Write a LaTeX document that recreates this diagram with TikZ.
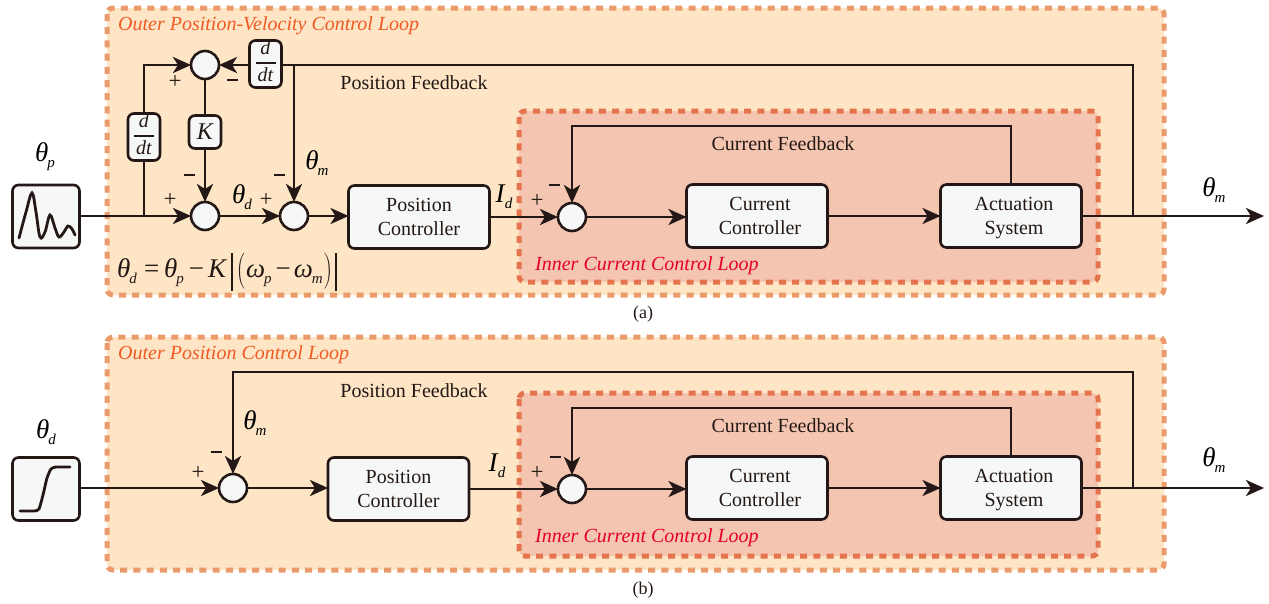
\documentclass[tikz,border=0pt]{standalone}
\usepackage{fontspec}
\setmainfont{Liberation Serif}
\usetikzlibrary{arrows.meta,positioning}
\definecolor{ink}{HTML}{231815}
\definecolor{outerfill}{HTML}{FDE5C6}
\definecolor{outerdash}{HTML}{EB9B6B}
\definecolor{innerfill}{HTML}{F4C6B1}
\definecolor{innerdash}{HTML}{E5744E}
\definecolor{boxfill}{HTML}{F6F8F7}
\definecolor{outertxt}{HTML}{F15A22}
\definecolor{innertxt}{HTML}{E60023}
\newcommand{\sym}[2]{{\fontsize{27}{27}\selectfont\textit{#1}\kern-1pt\raisebox{-6pt}{\fontsize{15}{15}\selectfont\textit{#2}}}}
\newcommand{\eqsym}[1]{{\fontsize{27}{27}\selectfont #1}}
\newcommand{\ddt}{\begin{tabular}{@{}c@{}}\textit{d}\\[-4pt]\rule[5pt]{20pt}{1.2pt}\\[-6pt]\textit{dt}\end{tabular}}
\newcommand{\tallbar}{\rule[-14pt]{1.8pt}{38pt}}
\newcommand{\mbar}{\rule[4pt]{11pt}{2.6pt}}
\newcommand{\blockline}[1]{\raisebox{-1.5pt}[0pt][0pt]{#1}\strut}
\newcommand{\shifted}[1]{\hspace*{6pt}\blockline{#1}}
\tikzset{
  x=1pt,y=-1pt,
  outerloop/.style={fill=outerfill,draw=outerdash,line width=5pt,dash pattern=on 7pt off 6.2pt,rounded corners=6pt},
  innerloop/.style={fill=innerfill,draw=innerdash,line width=5pt,dash pattern=on 7pt off 6.2pt,rounded corners=6pt},
  block/.style={draw=ink,fill=boxfill,line width=2.6pt,rounded corners=6pt,minimum width=141pt,minimum height=63pt,align=center,inner sep=0pt,outer sep=0pt,font=\fontsize{20}{24}\selectfont,text=ink},
  srcbox/.style={block,minimum width=67pt,minimum height=63pt},
  tallbox/.style={block,minimum width=32pt,minimum height=47pt,font=\fontsize{20}{18}\selectfont},
  kbox/.style={block,minimum width=32pt,minimum height=33pt,font=\fontsize{24}{24}\selectfont\itshape},
  sumnode/.style={circle,draw=ink,fill=boxfill,line width=2.6pt,minimum size=28pt,inner sep=0pt,outer sep=0pt},
  wire/.style={draw=ink,line width=2.8pt},
  arrow/.style={wire,-{Stealth[length=18pt,width=16pt,inset=5pt]}},
  curve/.style={draw=ink,line width=2.8pt,line cap=round},
  lbl/.style={inner sep=0pt,text=ink,font=\fontsize{20}{22}\selectfont},
  looplbl/.style={inner sep=0pt,anchor=west,font=\fontsize{20}{22}\selectfont\itshape},
  plus/.style={inner sep=0pt,text=ink,font=\fontsize{23}{23}\selectfont},
  minus/.style={inner sep=0pt,text=ink},
  capt/.style={inner sep=0pt,text=ink,font=\fontsize{18}{20}\selectfont}
}
\begin{document}
\begin{tikzpicture}
\useasboundingbox (0,0) rectangle (1269,603);
% ---------- (a) ----------
\path[outerloop] (107,8) rectangle (1164,295);
\path[innerloop] (519,111) rectangle (1098,282);
\node[looplbl,text=outertxt] (lo1) at (118,26) {Outer Position-Velocity Control Loop};
\node[looplbl,text=innertxt] (li1) at (535,266) {Inner Current Control Loop};
\node[srcbox] (src1) at (46,216.5) {};
\draw[curve] plot[smooth,tension=0.6] coordinates {(19,238) (26,212) (32,193) (36,212) (40,237) (45,232) (50,215) (55,228) (59,237) (64,232) (68,226) (72,229) (75,235)};
\node[sumnode] (s1) at (205,65) {};
\node[sumnode] (s2) at (205,216) {};
\node[sumnode] (s3) at (294,216) {};
\node[tallbox] (d1) at (265.5,64) {\ddt};
\node[tallbox] (d2) at (144,137) {\ddt};
\node[kbox] (k) at (205,132) {K};
\node[block] (pc1) at (419,217) {\blockline{Position}\\\blockline{Controller}};
\node[sumnode] (s4) at (572,217) {};
\node[block] (cc1) at (757,216) {\shifted{Current}\\\shifted{Controller}};
\node[block] (as1) at (1011,216) {\shifted{Actuation}\\\shifted{System}};
\coordinate (j1) at (144,216);
\coordinate (j2) at (1133,216);
\coordinate (j3) at (294,65);
\coordinate (c1) at (1133,65);
\coordinate (c2) at (1011,126);
\coordinate (c3) at (572,126);
\coordinate (out1) at (1264,216);
\coordinate (c4) at (144,65);
\draw[arrow] (s2.west -| src1.east) -- (s2.west);
\draw[wire] (j1) -- (d2.south);
\draw[arrow] (d2.north) -- (c4) -- (s1.west);
\draw[arrow] (s1.east -| d1.west) -- (s1.east);
\draw[wire] (s1.south) -- (k.north);
\draw[arrow] (k.south) -- (s2.north);
\draw[arrow] (s2.east) -- (s3.west);
\draw[arrow] (s3.east) -- (s3.east -| pc1.west);
\draw[arrow] (pc1.east |- s4.west) -- (s4.west);
\draw[arrow] (s4.east) -- (cc1.west |- s4.east);
\draw[arrow] (cc1.east) -- (as1.west);
\draw[arrow] (as1.east |- out1) -- (out1);
\draw[wire] (j2) -- (c1) -- (d1.east |- c1);
\draw[arrow] (j3) -- (s3.north);
\draw[arrow] (as1.north -| c2) -- (c2) -- (c3) -- (s4.north);
\node[lbl] (pf1) at (414,83) {Position Feedback};
\node[lbl] (cf1) at (783,144) {Current Feedback};
\node[inner sep=0pt] (tp) at (45,157) {\sym{θ}{p}};
\node[inner sep=0pt] (td) at (242,197) {\sym{θ}{d}};
\node[inner sep=0pt] (tm) at (317,163) {\sym{θ}{m}};
\node[inner sep=0pt] (id1) at (504,197) {\sym{I}{d}};
\node[inner sep=0pt] (tmo) at (1214,190) {\sym{θ}{m}};
\node[plus] (p1) at (175,82) {+};
\node[minus] (m1) at (232,82) {\mbar};
\node[plus] (p2) at (170,200) {+};
\node[minus] (m2) at (189,177) {\mbar};
\node[plus] (p3) at (266,200) {+};
\node[minus] (m3) at (279,177) {\mbar};
\node[plus] (p4) at (537,201) {+};
\node[minus] (m4) at (554,187) {\mbar};
\node[inner sep=0pt,anchor=west,text=ink] (eq) at (117,272) {\sym{θ}{d}\kern7pt\eqsym{=}\kern5pt\sym{θ}{p}\kern5pt\eqsym{−}\kern4pt\eqsym{\textit{K}}\kern4pt\tallbar\kern3pt\eqsym{$\left(\vphantom{\rule[-11pt]{0pt}{32pt}}\right.$}\sym{ω}{p}\kern4pt\eqsym{−}\kern3pt\sym{ω}{m}\eqsym{$\left.\vphantom{\rule[-11pt]{0pt}{32pt}}\right)$}\kern2pt\tallbar};
\node[capt] (capa) at (643,314) {(a)};
% ---------- (b) ----------
\path[outerloop] (107,337) rectangle (1164,570);
\path[innerloop] (519,393) rectangle (1098,556);
\node[looplbl,text=outertxt] (lo2) at (118,355) {Outer Position Control Loop};
\node[looplbl,text=innertxt] (li2) at (535,538) {Inner Current Control Loop};
\node[srcbox] (src2) at (46,489) {};
\draw[curve] plot[smooth,tension=0.35] coordinates {(20,511) (34,511) (39,509) (43,495) (47,478) (51,469) (56,467) (70,467)};
\node[sumnode] (s5) at (233,488) {};
\node[block] (pc2) at (398.5,489) {\blockline{Position}\\\blockline{Controller}};
\node[sumnode] (s6) at (572,489) {};
\node[block] (cc2) at (757,488) {\shifted{Current}\\\shifted{Controller}};
\node[block] (as2) at (1011,488) {\shifted{Actuation}\\\shifted{System}};
\coordinate (j4) at (1133,488);
\coordinate (c5) at (1133,372);
\coordinate (c6) at (233,372);
\coordinate (c7) at (1011,408);
\coordinate (c8) at (572,408);
\coordinate (out2) at (1264,488);
\draw[arrow] (s5.west -| src2.east) -- (s5.west);
\draw[arrow] (s5.east) -- (s5.east -| pc2.west);
\draw[arrow] (pc2.east |- s6.west) -- (s6.west);
\draw[arrow] (s6.east) -- (cc2.west |- s6.east);
\draw[arrow] (cc2.east) -- (as2.west);
\draw[arrow] (as2.east) -- (out2);
\draw[arrow] (j4) -- (c5) -- (c6) -- (s5.north);
\draw[arrow] (as2.north -| c7) -- (c7) -- (c8) -- (s6.north);
\node[lbl] (pf2) at (414,391) {Position Feedback};
\node[lbl] (cf2) at (783,426) {Current Feedback};
\node[inner sep=0pt] (td2) at (46,432) {\sym{θ}{d}};
\node[inner sep=0pt] (tm2) at (255,423) {\sym{θ}{m}};
\node[inner sep=0pt] (id2) at (497,466) {\sym{I}{d}};
\node[inner sep=0pt] (tmo2) at (1214,460) {\sym{θ}{m}};
\node[plus] (p5) at (198,473) {+};
\node[minus] (m5) at (216,454) {\mbar};
\node[plus] (p6) at (537,473) {+};
\node[minus] (m6) at (555,459) {\mbar};
\node[capt] (capb) at (643,590) {(b)};
\end{tikzpicture}
\end{document}
